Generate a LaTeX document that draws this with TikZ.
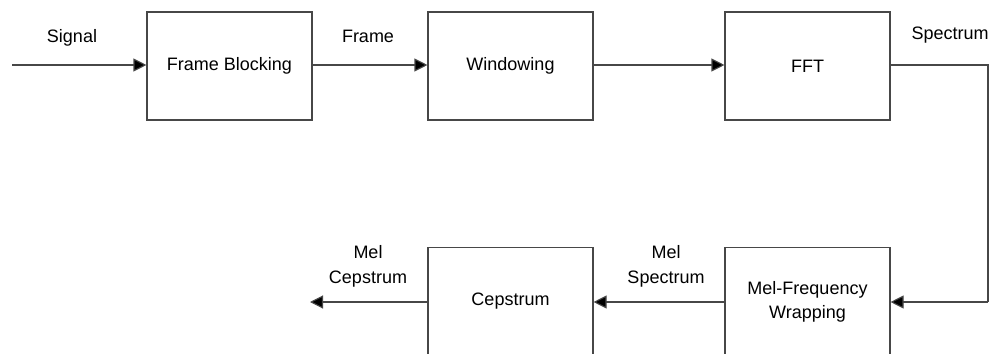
\documentclass[tikz,border=0pt]{standalone}
\usepackage{fontspec}
\setmainfont{Liberation Sans}
\usetikzlibrary{arrows.meta}
\begin{document}
\begin{tikzpicture}[x=1pt,y=-1pt,
  every node/.style={font=\fontsize{18}{24}\selectfont, text=black},
  blockbox/.style={draw=black!72, line width=1.1pt, rectangle, minimum width=165pt, minimum height=108pt, inner sep=0pt, align=center},
  flow/.style={draw=black!72, line width=1.1pt, -{Triangle[length=13pt,width=13pt,fill=black]}},
  plain/.style={draw=black!72, line width=1.1pt},
  lbl/.style={anchor=base, align=center, inner sep=0pt}]
\useasboundingbox (0,0) rectangle (992,353);
\clip (0,0) rectangle (992,353);
\fill[white] (0,0) rectangle (992,353);
% blocks
\node[blockbox] (fb) at (229.5,66) {Frame Blocking};
\node[blockbox] (win) at (510.5,66) {Windowing};
\node[blockbox] (fft) at (807.5,66) {FFT};
\node[blockbox] (mfw) at (807.5,301.5) {Mel-Frequency\\Wrapping};
\node[blockbox] (cep) at (510.5,301.5) {Cepstrum};
% free ends
\coordinate (sig) at (12,65);
\coordinate (c1) at (988,65);
\coordinate (c2) at (988,302);
\coordinate (out) at (310,302);
% connectors
\draw[flow] (sig) -- (fb.west |- sig);
\draw[flow] (fb.east |- sig) -- (win.west |- sig);
\draw[flow] (win.east |- sig) -- (fft.west |- sig);
\draw[plain] (fft.east |- c1) -- (c1) -- (c2);
\draw[flow] (c2) -- (mfw.east |- c2);
\draw[flow] (mfw.west |- c2) -- (cep.east |- c2);
\draw[flow] (cep.west |- out) -- (out);
% labels
\node[lbl] (lsig) at (72,42) {Signal};
\node[lbl] (lframe) at (368,42) {Frame};
\node[lbl] (lspec) at (950,40) {Spectrum};
\node[lbl] (lmelspec1) at (666,258) {Mel};
\node[lbl] (lmelspec2) at (666,283) {Spectrum};
\node[lbl] (lmelcep1) at (368,258) {Mel};
\node[lbl] (lmelcep2) at (368,283) {Cepstrum};
\end{tikzpicture}
\end{document}
